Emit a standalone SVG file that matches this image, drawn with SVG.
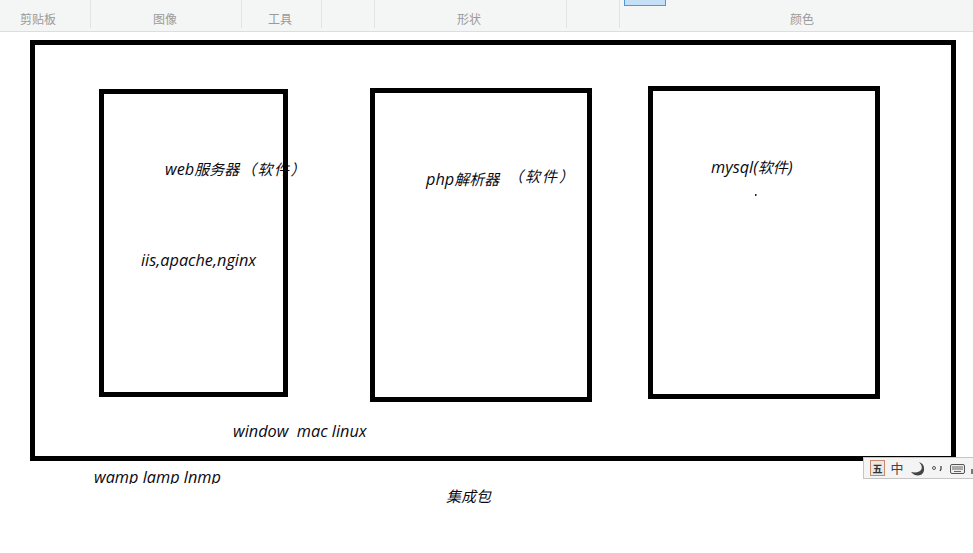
<svg xmlns="http://www.w3.org/2000/svg" width="973" height="553" viewBox="0 0 973 553">
<style>
.box{fill:none;stroke:#000;stroke-width:5}
.sep{stroke:#e2e4e3;stroke-width:1}
.rib{font-family:"Noto Sans CJK SC","Noto Sans",sans-serif;font-size:12px;fill:#9a9a9a;text-anchor:middle}
.t{font-family:"Noto Sans CJK SC",sans-serif;font-style:italic;font-size:15px;fill:#0a0a14}
.l{font-family:"Open Sans","Noto Sans",sans-serif;font-size:16.300px}
</style>
<defs><clipPath id="cut"><rect x="80" y="465" width="160" height="19"/></clipPath></defs>
<rect width="973" height="553" fill="#fff"/>
<g id="ribbon">
<rect width="973" height="31" fill="#f4f6f5"/>
<line x1="0" y1="31.500" x2="973" y2="31.500" stroke="#dcdedd"/>
<line class="sep" x1="90.500" y1="0" x2="90.500" y2="28"/>
<line class="sep" x1="241.500" y1="0" x2="241.500" y2="28"/>
<line class="sep" x1="321.500" y1="0" x2="321.500" y2="28"/>
<line class="sep" x1="374.500" y1="0" x2="374.500" y2="28"/>
<line class="sep" x1="566.500" y1="0" x2="566.500" y2="28"/>
<line class="sep" x1="619.500" y1="0" x2="619.500" y2="28"/>
<rect x="624.500" y="-2" width="41" height="7.500" fill="#c5dff6" stroke="#4f97de"/>
<text class="rib" x="38" y="24">剪贴板</text>
<text class="rib" x="165" y="24">图像</text>
<text class="rib" x="280" y="24">工具</text>
<text class="rib" x="469" y="24">形状</text>
<text class="rib" x="802" y="24">颜色</text>
</g>
<g id="outer"><rect class="box" x="32.500" y="42.500" width="921" height="416"/></g>
<g id="web">
<text class="t" x="165" y="175"><tspan class="l">web</tspan>服务器</text>
<text class="t" x="241" y="175" letter-spacing="1.500">（软件）</text>
<text class="t l" x="141" y="266">iis,apache,nginx</text>
<rect class="box" x="101.500" y="91.500" width="184" height="303"/>
</g>
<g id="php">
<text class="t" x="426" y="185"><tspan class="l">php</tspan>解析器</text>
<text class="t" x="508" y="182" letter-spacing="2">（软件）</text>
<rect class="box" x="372.500" y="90.500" width="217" height="309"/>
</g>
<g id="mysql">
<text class="t" x="711" y="173"><tspan class="l">mysql(</tspan>软件<tspan class="l">)</tspan></text>
<rect x="755" y="194" width="1.500" height="2" fill="#222"/>
<rect class="box" x="650.500" y="88.500" width="227" height="308"/>
</g>
<g id="labels">
<text class="t l" x="233" y="437" xml:space="preserve">window  mac linux</text>
<text class="t l" x="94" y="483" clip-path="url(#cut)">wamp lamp lnmp</text>
<text class="t" x="446" y="502">集成包</text>
</g>
<g id="ime">
<rect x="863.500" y="457.500" width="110" height="21" fill="#f4f4f4" stroke="#c4c4c4"/>
<rect x="870.500" y="460.500" width="14" height="15" fill="#e8e8e8" stroke="#c88a6a"/>
<text x="877.500" y="473" font-family="Noto Sans CJK SC,sans-serif" font-size="10" font-weight="700" fill="#333" text-anchor="middle">五</text>
<text x="897" y="473" font-family="Noto Sans CJK SC,sans-serif" font-size="13" fill="#444" text-anchor="middle">中</text>
<path d="M919 462 C925 468 921 474 911 472 C916 478 925 476 924 468 C924 465 922 463 919 462Z" fill="#444"/>
<circle cx="934" cy="468" r="1.500" fill="none" stroke="#555"/>
<path d="M941 466 L941 469 L940 471" fill="none" stroke="#444" stroke-width="1.300"/>
<rect x="950.500" y="464.500" width="14" height="9" rx="1.500" fill="#eee" stroke="#555"/>
<path d="M952 467H963M952 469H963M954 471.500H961" stroke="#666" stroke-width="1"/>
<rect x="971" y="469" width="2" height="5" fill="#777"/>
</g>
</svg>
